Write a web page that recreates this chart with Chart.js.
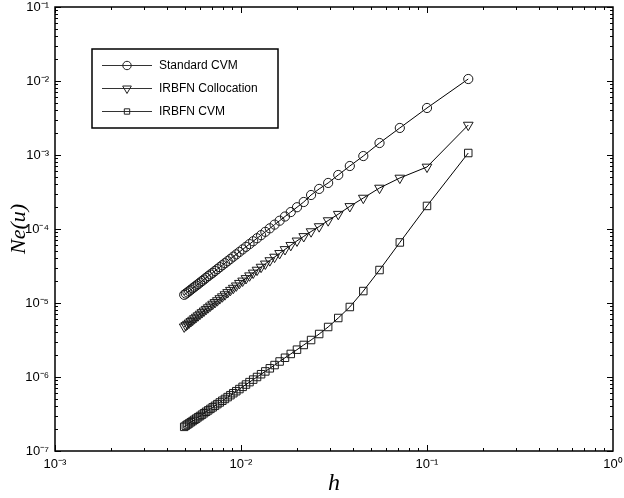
<!DOCTYPE html>
<html>
<head>
<meta charset="utf-8">
<script src="https://cdn.jsdelivr.net/npm/chart.js@4.4.1/dist/chart.umd.min.js"></script>
<style>
  html, body { margin: 0; padding: 0; background: #fff; }
  canvas { display: block; }
</style>
</head>
<body>
<canvas id="c" width="624" height="498"></canvas>
<script>
// ---- data ----
const h = [0.16667, 0.1, 0.071429, 0.055556, 0.045455, 0.038462, 0.033333, 0.029412, 0.026316, 0.02381,
  0.021739, 0.02, 0.018519, 0.017241, 0.016129, 0.015152, 0.014286, 0.013514, 0.012821, 0.012195,
  0.011628, 0.011111, 0.010638, 0.010204, 0.0098039, 0.009434, 0.0090909, 0.0087719, 0.0084746, 0.0081967,
  0.0079365, 0.0076923, 0.0074627, 0.0072464, 0.0070423, 0.0068493, 0.0066667, 0.0064935, 0.0063291, 0.0061728,
  0.0060241, 0.0058824, 0.0057471, 0.005618, 0.0054945, 0.0053763, 0.0052632, 0.0051546, 0.0050505, 0.0049505];

const standardCVM = [1.064e-2, 4.32e-3, 2.32e-3, 1.452e-3, 9.68e-4, 7.10e-4, 5.37e-4, 4.19e-4, 3.48e-4, 2.88e-4,
  2.317e-4, 1.968e-4, 1.694e-4, 1.475e-4, 1.294e-4, 1.146e-4, 1.021e-4, 9.16e-5, 8.26e-5, 7.50e-5,
  6.83e-5, 6.25e-5, 5.74e-5, 5.30e-5, 4.90e-5, 4.54e-5, 4.23e-5, 3.94e-5, 3.68e-5, 3.45e-5,
  3.24e-5, 3.05e-5, 2.87e-5, 2.71e-5, 2.56e-5, 2.43e-5, 2.31e-5, 2.19e-5, 2.08e-5, 1.98e-5,
  1.89e-5, 1.80e-5, 1.72e-5, 1.65e-5, 1.58e-5, 1.51e-5, 1.45e-5, 1.39e-5, 1.34e-5, 1.29e-5];

const irbfnCollocation = [2.54e-3, 6.89e-4, 4.89e-4, 3.58e-4, 2.62e-4, 2.02e-4, 1.585e-4, 1.30e-4, 1.08e-4, 9.23e-5,
  7.94e-5, 6.92e-5, 6.03e-5, 5.30e-5, 4.69e-5, 4.18e-5, 3.75e-5, 3.38e-5, 3.06e-5, 2.79e-5,
  2.55e-5, 2.34e-5, 2.15e-5, 1.99e-5, 1.85e-5, 1.71e-5, 1.59e-5, 1.49e-5, 1.39e-5, 1.30e-5,
  1.22e-5, 1.15e-5, 1.08e-5, 1.02e-5, 9.68e-6, 9.16e-6, 8.68e-6, 8.24e-6, 7.83e-6, 7.45e-6,
  7.10e-6, 6.76e-6, 6.46e-6, 6.17e-6, 5.89e-6, 5.64e-6, 5.40e-6, 5.18e-6, 4.97e-6, 4.77e-6];

const irbfnCVM = [1.064e-3, 2.05e-4, 6.58e-5, 2.79e-5, 1.45e-5, 8.83e-6, 6.27e-6, 4.74e-6, 3.81e-6, 3.16e-6,
  2.71e-6, 2.34e-6, 2.05e-6, 1.82e-6, 1.62e-6, 1.45e-6, 1.31e-6, 1.19e-6, 1.09e-6, 1.00e-6,
  9.22e-7, 8.53e-7, 7.91e-7, 7.36e-7, 6.87e-7, 6.43e-7, 6.04e-7, 5.68e-7, 5.35e-7, 5.05e-7,
  4.78e-7, 4.53e-7, 4.30e-7, 4.08e-7, 3.89e-7, 3.71e-7, 3.54e-7, 3.39e-7, 3.24e-7, 3.10e-7,
  2.97e-7, 2.86e-7, 2.74e-7, 2.64e-7, 2.54e-7, 2.45e-7, 2.36e-7, 2.28e-7, 2.20e-7, 2.12e-7];

const seriesNames = ['Standard CVM', 'IRBFN Collocation', 'IRBFN CVM'];
const xTickValues = [1e-3, 1e-2, 1e-1, 1];
const xTickLabels = ['10\u207B\u00B3', '10\u207B\u00B2', '10\u207B\u00B9', '10\u2070'];
const yTickValues = [1e-7, 1e-6, 1e-5, 1e-4, 1e-3, 1e-2, 1e-1];
const yTickLabels = ['10\u207B\u2077', '10\u207B\u2076', '10\u207B\u2075', '10\u207B\u2074', '10\u207B\u00B3', '10\u207B\u00B2', '10\u207B\u00B9'];
const xTitle = 'h';
const yTitle = 'Ne(u)';

// ---- helpers ----
const toPts = (ys) => ys.map((v, i) => ({ x: h[i], y: v }));
const marker = [
  { style: 'circle', radius: 4.6, rotation: 0 },
  { style: 'triangle', radius: 5.6, rotation: 180 },
  { style: 'rect', radius: 5.3, rotation: 0 }
];
const legendMarker = [4.2, 5.0, 3.8];

function drawMarker(ctx, style, x, y, r, rot) {
  ctx.beginPath();
  if (style === 'circle') {
    ctx.arc(x, y, r, 0, Math.PI * 2);
  } else if (style === 'triangle') {
    const a = rot * Math.PI / 180;
    for (let k = 0; k < 3; k++) {
      const ang = a - Math.PI / 2 + k * 2 * Math.PI / 3;
      const px = x + r * Math.cos(ang), py = y + r * Math.sin(ang);
      if (k === 0) ctx.moveTo(px, py); else ctx.lineTo(px, py);
    }
    ctx.closePath();
  } else {
    const s = r * Math.SQRT1_2;
    ctx.rect(x - s, y - s, 2 * s, 2 * s);
  }
  ctx.stroke();
}

const framePlugin = {
  id: 'frame',
  beforeDraw(chart) {
    const ctx = chart.ctx;
    ctx.save();
    ctx.fillStyle = '#fff';
    ctx.fillRect(0, 0, chart.width, chart.height);
    ctx.restore();
  },
  afterDraw(chart) {
    const ctx = chart.ctx;
    const a = chart.chartArea;
    const xs = chart.scales.x, ys = chart.scales.y;
    ctx.save();
    ctx.strokeStyle = '#000';
    ctx.lineWidth = 1;
    for (let e = -3; e < 0; e++) {
      for (let m = 1; m <= 9; m++) {
        const v = m * Math.pow(10, e);
        const px = Math.round(xs.getPixelForValue(v)) + 0.5;
        const len = m === 1 ? 6 : 3;
        ctx.beginPath();
        ctx.moveTo(px, a.bottom); ctx.lineTo(px, a.bottom - len);
        ctx.moveTo(px, a.top); ctx.lineTo(px, a.top + len);
        ctx.stroke();
      }
    }
    for (let e = -7; e <= -1; e++) {
      for (let m = 1; m <= 9; m++) {
        const v = m * Math.pow(10, e);
        if (v > 0.1 + 1e-12) continue;
        const py = Math.round(ys.getPixelForValue(v)) + 0.5;
        const len = m === 1 ? 6 : 3;
        ctx.beginPath();
        ctx.moveTo(a.left, py); ctx.lineTo(a.left + len, py);
        ctx.moveTo(a.right, py); ctx.lineTo(a.right - len, py);
        ctx.stroke();
      }
    }
    ctx.lineWidth = 1.5;
    ctx.strokeRect(a.left, a.top, a.right - a.left, a.bottom - a.top);

    // legend box
    const bx = 92, by = 49, bw = 186, bh = 79;
    ctx.fillStyle = '#fff';
    ctx.fillRect(bx, by, bw, bh);
    ctx.lineWidth = 1.5;
    ctx.strokeStyle = '#000';
    ctx.strokeRect(bx, by, bw, bh);
    chart.data.datasets.forEach((ds, i) => {
      const ry = 65.5 + i * 23;
      ctx.strokeStyle = '#333';
      ctx.lineWidth = 1;
      ctx.beginPath();
      ctx.moveTo(102, ry); ctx.lineTo(152, ry);
      ctx.stroke();
      ctx.strokeStyle = '#222';
      drawMarker(ctx, marker[i].style, 127, ry, legendMarker[i], marker[i].rotation);
      ctx.fillStyle = '#000';
      ctx.font = '12px "Liberation Sans", Arial, sans-serif';
      ctx.textBaseline = 'middle';
      ctx.textAlign = 'left';
      ctx.fillText(ds.label, 159, ry);
    });
    ctx.restore();
  }
};

const datasets = [standardCVM, irbfnCollocation, irbfnCVM].map((ys, i) => ({
  label: seriesNames[i],
  data: toPts(ys),
  borderColor: '#000',
  borderWidth: 1,
  pointStyle: marker[i].style,
  pointRadius: marker[i].radius,
  pointRotation: marker[i].rotation,
  pointBorderColor: '#1a1a1a',
  pointBorderWidth: 1,
  pointBackgroundColor: 'rgba(0,0,0,0)',
  fill: false,
  tension: 0,
  clip: false
}));

new Chart(document.getElementById('c'), {
  type: 'line',
  data: { datasets },
  plugins: [framePlugin],
  options: {
    responsive: false,
    devicePixelRatio: 1,
    animation: false,
    events: [],
    layout: { padding: { top: 7, right: 11, left: 0, bottom: 0 } },
    plugins: { legend: { display: false }, tooltip: { enabled: false } },
    scales: {
      x: {
        type: 'logarithmic',
        min: 1e-3, max: 1,
        afterBuildTicks: (s) => { s.ticks = xTickValues.map(v => ({ value: v, major: true })); },
        afterFit: (s) => { s.height = 47; s.paddingLeft = 0; s.paddingRight = 0; },
        grid: { display: false, drawTicks: false },
        border: { display: false },
        ticks: {
          autoSkip: false, maxRotation: 0, padding: 6,
          color: '#000',
          font: { family: '"Liberation Sans", Arial, sans-serif', size: 13 },
          callback: (v) => { const i = xTickValues.findIndex(t => Math.abs(t - v) / t < 1e-6); return i >= 0 ? xTickLabels[i] : ''; }
        },
        title: {
          display: true, text: xTitle, color: '#000',
          font: { family: '"Liberation Serif", "Times New Roman", serif', size: 24, style: 'italic' },
          padding: { top: 0, bottom: 0 }
        }
      },
      y: {
        type: 'logarithmic',
        min: 1e-7, max: 1e-1,
        afterBuildTicks: (s) => { s.ticks = yTickValues.map(v => ({ value: v, major: true })); },
        afterFit: (s) => { s.width = 55; s.paddingTop = 0; s.paddingBottom = 0; },
        grid: { display: false, drawTicks: false },
        border: { display: false },
        ticks: {
          autoSkip: false, padding: 6,
          color: '#000',
          font: { family: '"Liberation Sans", Arial, sans-serif', size: 13 },
          callback: (v) => { const i = yTickValues.findIndex(t => Math.abs(t - v) / t < 1e-6); return i >= 0 ? yTickLabels[i] : ''; }
        },
        title: {
          display: true, text: yTitle, color: '#000',
          font: { family: '"Liberation Serif", "Times New Roman", serif', size: 22, style: 'italic' },
          padding: { top: 6, bottom: 0 }
        }
      }
    }
  }
});
</script>
</body>
</html>
